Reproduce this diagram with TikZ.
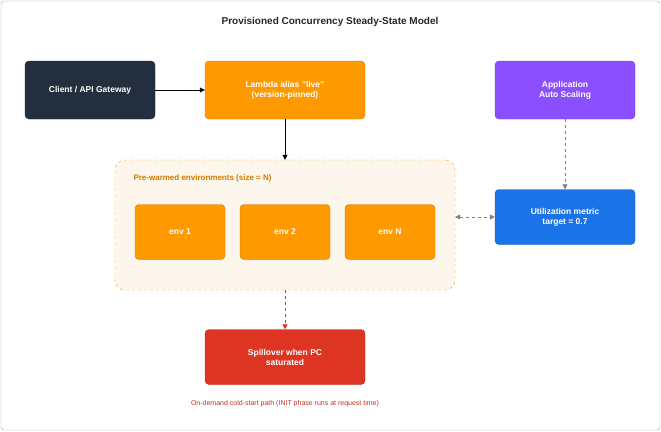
\documentclass[tikz,border=0pt]{standalone}
\usepackage{fontspec}
\setmainfont{Liberation Sans}
\usetikzlibrary{arrows.meta}
\definecolor{dark}{HTML}{232F3E}
\definecolor{orng}{HTML}{FF9900}
\definecolor{purp}{HTML}{8C4FFF}
\definecolor{blu}{HTML}{1A73E8}
\definecolor{rd}{HTML}{DD3522}
\definecolor{pale}{HTML}{FDF6EC}
\definecolor{otext}{HTML}{D07A00}
\begin{document}
\begin{tikzpicture}[x=1pt,y=-1pt,
 box/.style={draw=#1!80!black,fill=#1,rounded corners=4pt,text=white,font=\fontsize{8.5}{10}\selectfont\bfseries,align=center},
 arr/.style={-{Triangle[length=5pt,width=5pt]},line width=0.8pt}]
\useasboundingbox (0,0) rectangle (661,431);
\draw[gray!70,rounded corners=3pt] (1,1) rectangle (660,430);
\node[font=\fontsize{10}{12}\selectfont\bfseries,text=black!85] (title) at (330,22) {Provisioned Concurrency Steady-State Model};
\path (115,160) coordinate (c1) (455,290) coordinate (c2);
\node[draw=orng,dashed,fill=pale,rounded corners=10pt,minimum width=340pt,minimum height=130pt] (pool) at (285,225) {};
\node[anchor=west,text=otext,font=\fontsize{8}{10}\selectfont\bfseries] (poollab) at (130,178) {Pre-warmed environments (size = N)};
\node[box=dark,minimum width=130pt,minimum height=58pt] (client) at (90,90) {Client / API Gateway};
\node[box=orng,minimum width=160pt,minimum height=58pt] (lambda) at (285,90) {Lambda alias "live"\\(version-pinned)};
\node[box=purp,minimum width=140pt,minimum height=58pt] (asc) at (565,90) {Application\\Auto Scaling};
\node[box=orng,minimum width=90pt,minimum height=55pt] (e1) at (180,232) {env 1};
\node[box=orng,minimum width=90pt,minimum height=55pt] (e2) at (285,232) {env 2};
\node[box=orng,minimum width=90pt,minimum height=55pt] (eN) at (390,232) {env N};
\node[box=blu,minimum width=140pt,minimum height=55pt] (util) at (565,217) {Utilization metric\\target = 0.7};
\node[box=rd,minimum width=160pt,minimum height=55pt] (spill) at (285,357) {Spillover when PC\\saturated};
\node[text=rd!90!black,font=\fontsize{7}{9}\selectfont] (note) at (285,404) {On-demand cold-start path (INIT phase runs at request time)};
\draw[arr] (client) -- (lambda);
\draw[arr] (lambda) -- (pool);
\draw[arr,gray,dashed] (asc) -- (util);
\draw[{Triangle[length=5pt,width=5pt]}-{Triangle[length=5pt,width=5pt]},line width=0.8pt,gray,dashed] (pool.east|-util) -- (util);
\draw[arr,rd,dashed] (pool) -- (spill);
\end{tikzpicture}
\end{document}
